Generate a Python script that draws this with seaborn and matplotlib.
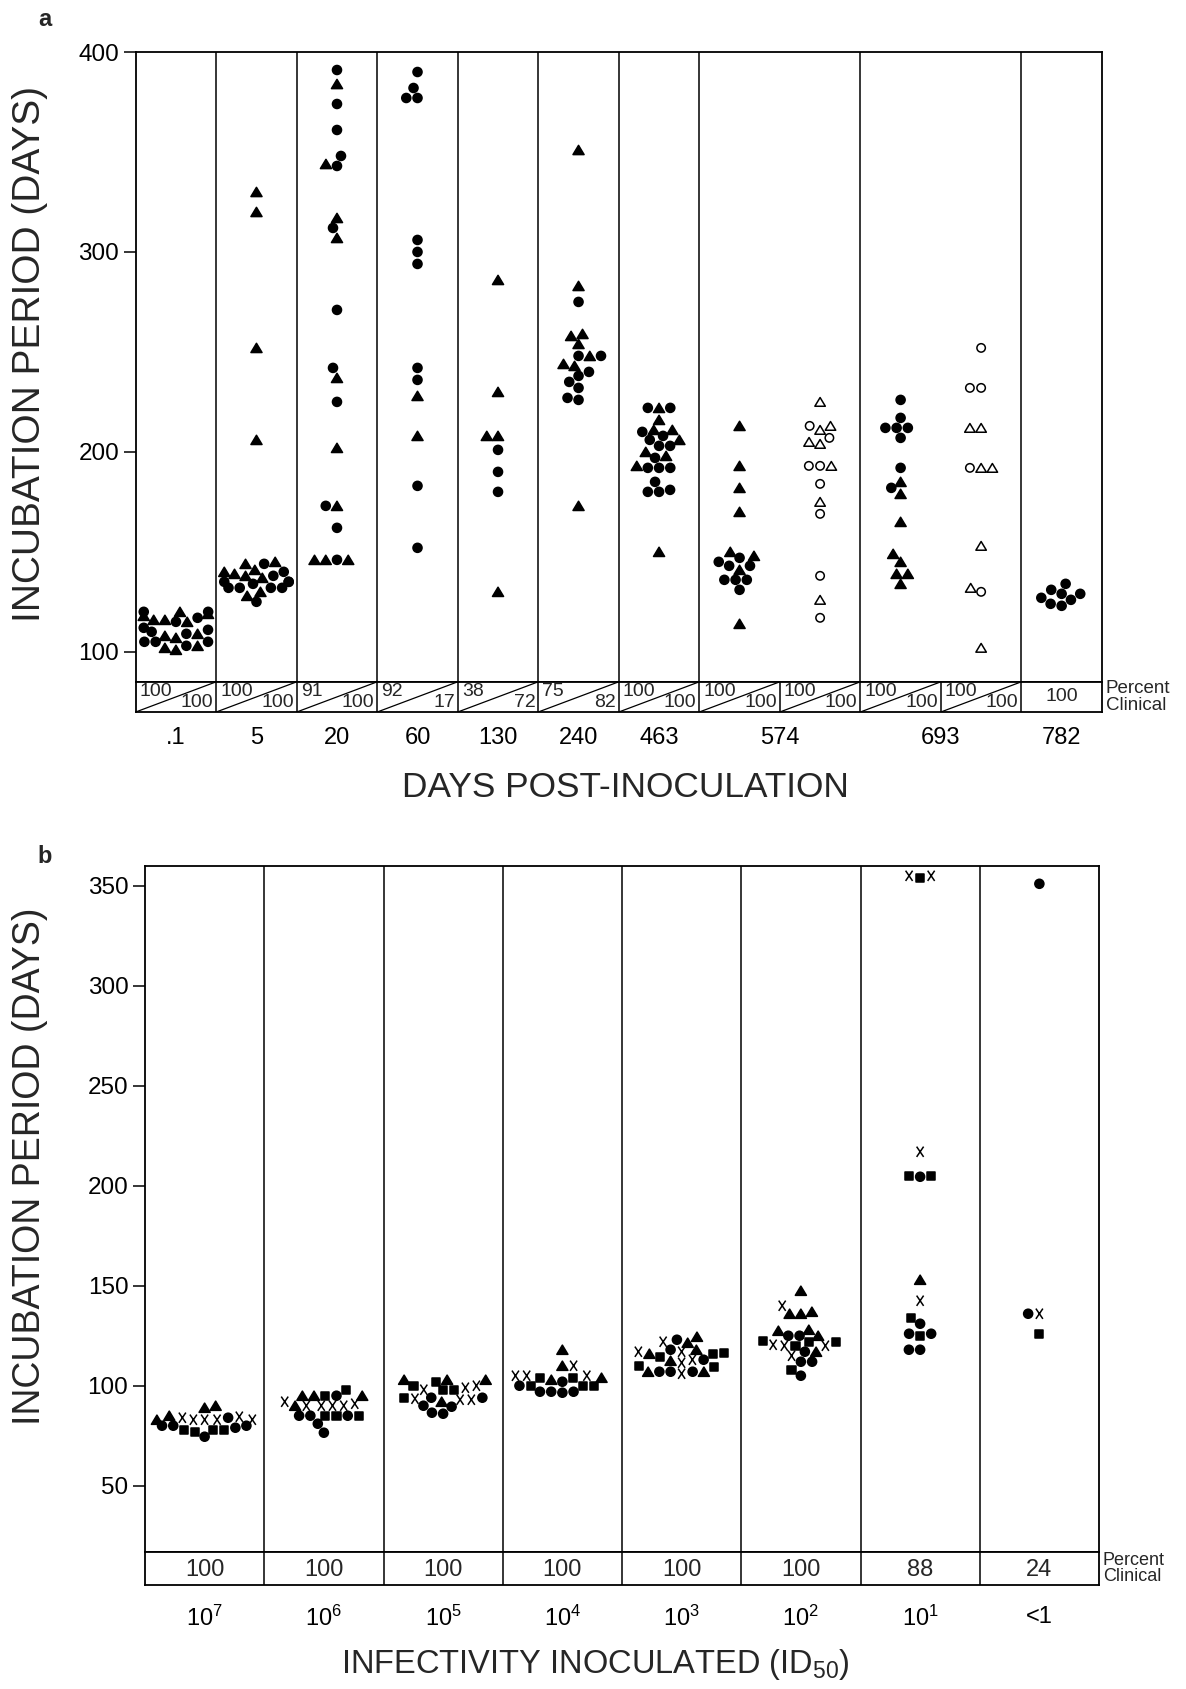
import numpy as np
import pandas as pd
import matplotlib
matplotlib.use("Agg")
import matplotlib.pyplot as plt
import seaborn as sns
from matplotlib.path import Path
from matplotlib.markers import MarkerStyle

# ---------------- data : panel a ----------------
a_categories = [".1", "5", "20", "60", "130", "240", "463", "574", "574", "693", "693", "782"]
a_pct_top = [100, 100, 91, 92, 38, 75, 100, 100, 100, 100, 100, 100]
a_pct_bottom = [100, 100, 100, 17, 72, 82, 100, 100, 100, 100, 100, None]

a_circles = [
    [115, 120, 120, 117, 112, 110, 109, 105, 105, 105, 103, 111],
    [144, 140, 138, 135, 134, 135, 135, 132, 132, 132, 132, 125],
    [391, 374, 361, 348, 343, 312, 271, 242, 225, 173, 162, 146],
    [390, 382, 377, 377, 306, 300, 294, 242, 236, 183, 152],
    [201, 190, 180],
    [275, 248, 248, 240, 238, 235, 232, 226, 227],
    [222, 222, 210, 208, 203, 203, 206, 197, 192, 192, 192, 185, 181, 180, 180],
    [147, 145, 143, 143, 136, 136, 136, 131],
    [],
    [226, 217, 212, 212, 212, 207, 192, 182],
    [],
    [134, 131, 129, 129, 126, 127, 123, 124],
]
a_triangles = [
    [120, 119, 118, 116, 116, 115, 108, 107, 103, 102, 101, 109],
    [330, 320, 252, 206, 145, 144, 141, 138, 137, 140, 139, 130, 128],
    [384, 344, 317, 307, 237, 202, 173, 146, 146, 146],
    [228, 208],
    [286, 230, 208, 208, 130],
    [351, 283, 259, 258, 254, 248, 244, 243, 173],
    [222, 216, 211, 211, 206, 200, 198, 193, 150],
    [213, 193, 182, 170, 150, 148, 141, 114],
    [],
    [185, 179, 165, 149, 145, 139, 139, 134],
    [],
    [],
]
a_open_circles = [[], [], [], [], [], [], [], [],
                  [213, 207, 193, 193, 184, 169, 138, 117],
                  [],
                  [252, 232, 232, 192, 130],
                  []]
a_open_triangles = [[], [], [], [], [], [], [], [],
                    [225, 211, 213, 204, 205, 193, 175, 126],
                    [],
                    [212, 212, 192, 192, 153, 132, 102],
                    []]

# ---------------- data : panel b ----------------
b_categories = ["7", "6", "5", "4", "3", "2", "1", "<1"]
b_pct = [100, 100, 100, 100, 100, 100, 88, 24]
b_squares = [
    [78, 77, 78, 78],
    [98, 95, 85, 85, 85],
    [100, 98, 98, 102, 94],
    [104, 104, 100, 100, 100],
    [109.5, 114.5, 116.5, 116, 110],
    [120, 122.5, 122, 122, 108],
    [354, 205, 205, 134, 125],
    [126],
]
b_x = [
    [84.5, 83, 83, 83, 84, 83],
    [92, 90, 90, 90, 90, 91],
    [98, 99, 100, 93, 93, 93.5],
    [105, 105, 105, 110],
    [122, 117, 117, 111.5, 113, 106],
    [140, 115, 120, 120, 120.5],
    [355, 355, 217, 142.5],
    [136],
]
b_circles = [
    [80, 84, 80, 79, 74.5, 80],
    [95, 85, 85, 85, 81, 76.5],
    [94, 94, 89.5, 90, 86, 86.5],
    [100, 102, 97, 96.5, 97, 97],
    [123, 118, 113, 107, 107, 107],
    [125, 125, 117, 112, 112, 105],
    [204.5, 131, 126, 126, 118, 118],
    [351, 136],
]
b_triangles = [
    [89, 90, 83, 85],
    [95, 95, 95, 90],
    [92, 103, 103, 103],
    [118, 110, 104, 103],
    [121.5, 124.5, 118, 116, 112.5, 107, 107],
    [147.5, 136, 136, 137, 127.5, 128, 125, 117],
    [153],
    [],
]

# ---------------- style ----------------
sns.set_style("ticks")
plt.rcParams["font.family"] = ["Liberation Sans", "DejaVu Sans"]
plt.rcParams["mathtext.fontset"] = "custom"
plt.rcParams["mathtext.rm"] = "Liberation Sans"
plt.rcParams["mathtext.it"] = "Liberation Sans:italic"
plt.rcParams["mathtext.bf"] = "Liberation Sans:bold"

# swarm is packed with a slightly smaller nominal size, markers drawn a bit larger
SWARM_SIZE = 6.6
GROW = 7.4 / 6.6

_c = MarkerStyle("o")
_CIRC = _c.get_path().transformed(_c.get_transform())
CIRC = Path(_CIRC.vertices * 0.88 * GROW, _CIRC.codes)
OCIRC = Path(_CIRC.vertices * 0.82 * GROW, _CIRC.codes)
_TRI = Path([(0, 0.5), (-0.6, -0.5), (0.6, -0.5), (0, 0.5)],
            [Path.MOVETO, Path.LINETO, Path.LINETO, Path.CLOSEPOLY])
TRI = Path(_TRI.vertices * 0.9 * GROW, _TRI.codes)
OTRI = Path(_TRI.vertices * 0.85 * GROW, _TRI.codes)
_SQ = Path([(-0.4, -0.4), (0.4, -0.4), (0.4, 0.4), (-0.4, 0.4), (-0.4, -0.4)],
           [Path.MOVETO, Path.LINETO, Path.LINETO, Path.LINETO, Path.CLOSEPOLY])
SQ = Path(_SQ.vertices * GROW, _SQ.codes)
_XP = Path([(-0.34, -0.5), (0.34, 0.5), (-0.34, 0.5), (0.34, -0.5)],
           [Path.MOVETO, Path.LINETO, Path.MOVETO, Path.LINETO])
XP = Path(_XP.vertices * GROW, _XP.codes)

STYLE = {
    "circle": (CIRC, "black"),
    "triangle": (TRI, "black"),
    "open_circle": (OCIRC, "white"),
    "open_triangle": (OTRI, "white"),
    "square": (SQ, "black"),
    "x": (XP, "none"),
}


def build_df(keys, series):
    rows = []
    for kind, lists in series.items():
        for k, vals in zip(keys, lists):
            for v in vals:
                rows.append((k, v, kind))
    return pd.DataFrame(rows, columns=["col", "value", "kind"])


def draw_swarm(ax, df, order, size):
    n0 = len(ax.collections)
    sns.swarmplot(data=df, x="col", y="value", order=order, color="black",
                  size=size, linewidth=1.1, edgecolor="black", ax=ax,
                  warn_thresh=1.0, zorder=3)
    colls = ax.collections[n0:]
    used = [c for c in order if (df["col"] == c).any()]
    for coll, cat in zip(colls, used):
        kinds = df.loc[df["col"] == cat, "kind"].tolist()
        coll.set_paths([STYLE[k][0] for k in kinds])
        coll.set_facecolors([STYLE[k][1] for k in kinds])
        coll.set_edgecolor("black")
        coll.set_linewidth(1.1)


def style_main(ax, n, ylim, yticks):
    ax.set_xlim(-0.5, n - 0.5)
    ax.set_ylim(*ylim)
    ax.set_yticks(yticks)
    ax.set_yticklabels([str(t) for t in yticks])
    ax.tick_params(axis="x", bottom=False, labelbottom=False)
    ax.tick_params(axis="y", length=9, width=1.1, labelsize=17.5, pad=3,
                   direction="out", color="black", labelcolor="black")
    ax.set_xlabel("")
    ax.set_ylabel("")
    ax.grid(False)
    for s in ax.spines.values():
        s.set_visible(True)
        s.set_linewidth(1.3)
        s.set_color("black")


def style_box(ax, n):
    ax.set_xlim(-0.5, n - 0.5)
    ax.set_ylim(0, 1)
    ax.set_yticks([])
    ax.grid(False)
    ax.set_facecolor("white")
    for s in ax.spines.values():
        s.set_visible(True)
        s.set_linewidth(1.3)
        s.set_color("black")


fig = plt.figure(figsize=(11.86, 16.89), dpi=100)
W, H = 1186.0, 1689.0


def rect(l, t, r, b):
    return [l / W, 1 - b / H, (r - l) / W, (b - t) / H]


# ---------------- panel a ----------------
axA = fig.add_axes(rect(135.7, 52, 1101.9, 681.8))
boxA = fig.add_axes(rect(135.7, 681.8, 1101.9, 712))
nA = len(a_categories)
a_keys = ["a%d" % i for i in range(nA)]
dfA = build_df(a_keys, {"circle": a_circles, "triangle": a_triangles,
                        "open_circle": a_open_circles, "open_triangle": a_open_triangles})
draw_swarm(axA, dfA, a_keys, SWARM_SIZE)
style_main(axA, nA, (85, 400), [100, 200, 300, 400])
for i in range(nA - 1):
    if a_categories[i] != a_categories[i + 1]:
        axA.axvline(i + 0.5, color="black", lw=1.1, zorder=1)

style_box(boxA, nA)
for i in range(nA - 1):
    boxA.axvline(i + 0.5, color="black", lw=1.1)
for i in range(nA):
    top, bot = a_pct_top[i], a_pct_bottom[i]
    if bot is None:
        boxA.text(i, 0.5, str(top), ha="center", va="center", fontsize=14)
    else:
        boxA.plot([i - 0.5, i + 0.5], [0, 1], color="black", lw=0.9)
        boxA.text(i - 0.5 + 0.05, 0.68, str(top), ha="left", va="center", fontsize=14)
        boxA.text(i + 0.5 - 0.035, 0.32, str(bot), ha="right", va="center", fontsize=14)
uniq = []
for c in a_categories:
    if c not in uniq:
        uniq.append(c)
a_tick_pos = [float(np.mean([i for i, c in enumerate(a_categories) if c == u])) for u in uniq]
boxA.set_xticks(a_tick_pos)
boxA.set_xticklabels(uniq)
boxA.tick_params(axis="x", length=0, labelsize=17, pad=11, labelcolor="black")
boxA.text(1.004, 0.5, "Percent\nClinical", transform=boxA.transAxes, ha="left",
          va="center", fontsize=13.5, linespacing=0.95)

# ---------------- panel b ----------------
axB = fig.add_axes(rect(145, 866, 1099, 1551.5))
boxB = fig.add_axes(rect(145, 1551.5, 1099, 1585))
nB = len(b_categories)
b_keys = ["b%d" % i for i in range(nB)]
dfB = build_df(b_keys, {"square": b_squares, "x": b_x,
                        "circle": b_circles, "triangle": b_triangles})
draw_swarm(axB, dfB, b_keys, SWARM_SIZE)
style_main(axB, nB, (17.1, 359.9), [50, 100, 150, 200, 250, 300, 350])
for i in range(nB - 1):
    axB.axvline(i + 0.5, color="black", lw=1.1, zorder=1)

style_box(boxB, nB)
for i in range(nB - 1):
    boxB.axvline(i + 0.5, color="black", lw=1.1)
for i, v in enumerate(b_pct):
    boxB.text(i, 0.45, str(v), ha="center", va="center", fontsize=17)
b_labels = [(r"$\mathregular{10^{%s}}$" % c) if c != "<1" else "<1" for c in b_categories]
boxB.set_xticks(range(nB))
boxB.set_xticklabels(b_labels)
boxB.tick_params(axis="x", length=0, labelsize=17, pad=15, labelcolor="black")
boxB.text(1.004, 0.5, "Percent\nClinical", transform=boxB.transAxes, ha="left",
          va="center", fontsize=13, linespacing=0.95)

# ---------------- labels ----------------
fig.text(30 / W, 1 - 354 / H, "INCUBATION PERIOD (DAYS)", rotation=90,
         ha="center", va="center", fontsize=28)
fig.text(30 / W, 1 - 1166 / H, "INCUBATION PERIOD (DAYS)", rotation=90,
         ha="center", va="center", fontsize=27)
fig.text(625 / W, 1 - 788 / H, "DAYS POST-INOCULATION", ha="center", va="center", fontsize=25.4)
fig.text(595 / W, 1 - 1664 / H, r"INFECTIVITY INOCULATED (ID$\mathregular{_{50}}$)",
         ha="center", va="center", fontsize=23.5)
fig.text(45 / W, 1 - 19 / H, "a", ha="center", va="center", fontsize=17, fontweight="bold")
fig.text(45 / W, 1 - 856 / H, "b", ha="center", va="center", fontsize=17, fontweight="bold")

fig.savefig("out.png", dpi=100, facecolor="white")
